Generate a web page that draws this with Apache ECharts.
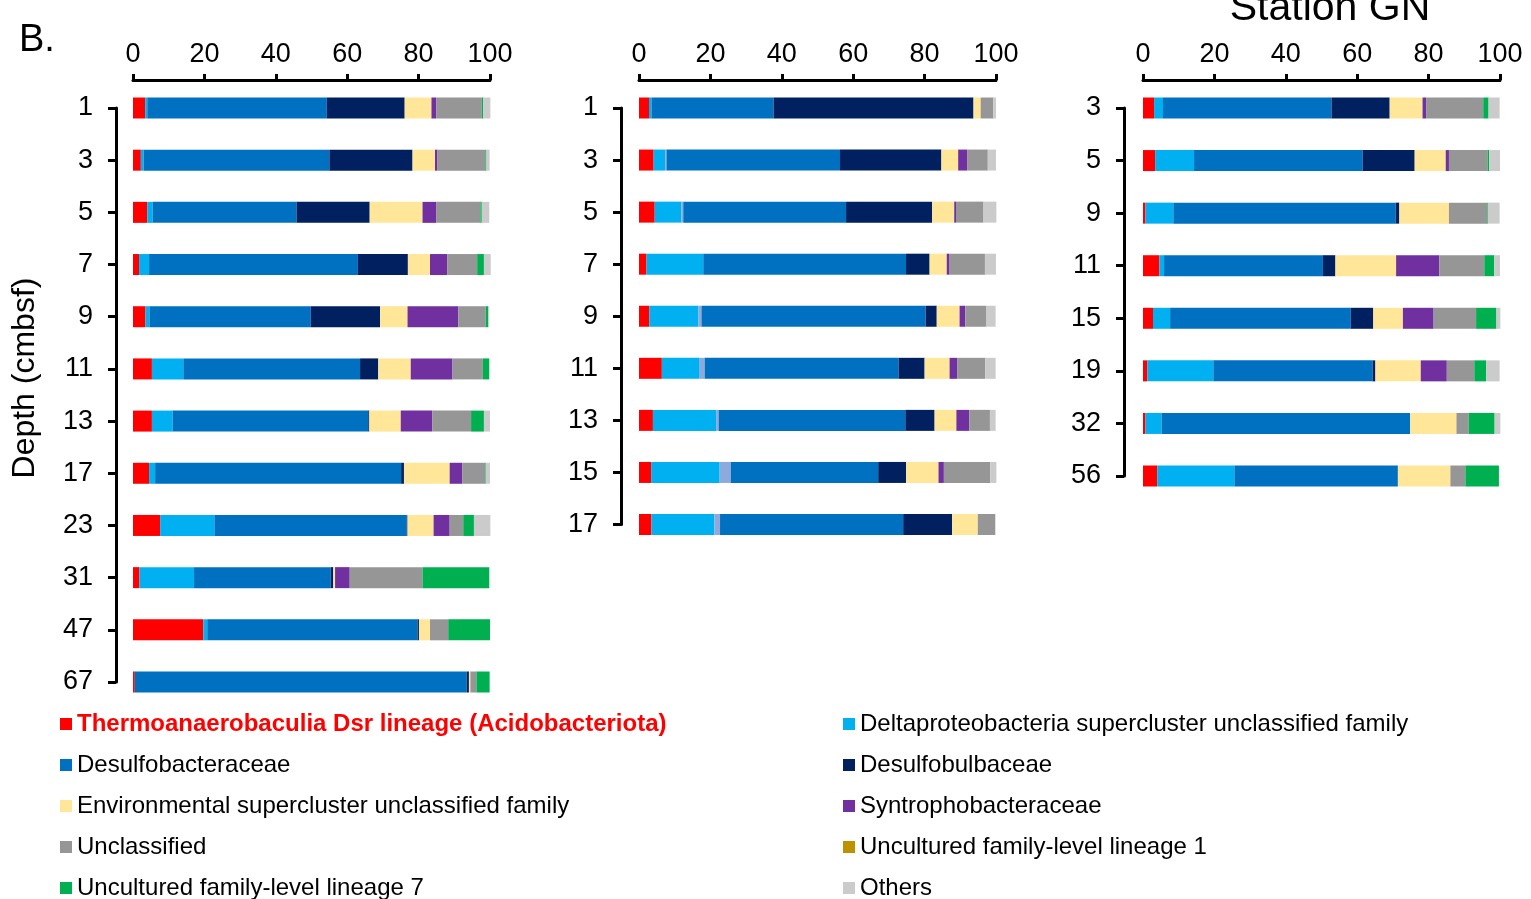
<!DOCTYPE html>
<html>
<head>
<meta charset="utf-8">
<title>Station GN – sulfate-reducer community by depth</title>
<script src="https://cdn.jsdelivr.net/npm/echarts@6/dist/echarts.min.js"></script>
<style>
  html, body { margin: 0; padding: 0; background: #ffffff; }
  #chart { width: 1531px; height: 899px; }
</style>
</head>
<body>
<div id="chart"></div>
<script>
// Depth categories (cmbsf) for the three cores
const depthsA = ['1', '3', '5', '7', '9', '11', '13', '17', '23', '31', '47', '67'];
const depthsB = ['1', '3', '5', '7', '9', '11', '13', '15', '17'];
const depthsC = ['3', '5', '9', '11', '15', '19', '32', '56'];

// Relative abundance (%) per family, one list per core: [core A, core B, core C]
const thermoanaerobaculia = [
  [3.4, 2.2, 4.0, 1.7, 3.5, 5.3, 5.3, 4.5, 7.6, 1.8, 19.7, 0.5],
  [2.8, 4.1, 4.4, 2.1, 2.9, 6.4, 3.9, 3.4, 3.5],
  [3.1, 3.4, 0.7, 4.6, 2.8, 1.2, 0.7, 4.0]
];
const deltaSupercluster = [
  [0.6, 0.8, 1.5, 2.8, 1.1, 8.8, 5.8, 1.7, 15.2, 15.3, 1.1, 0],
  [0.7, 3.2, 7.5, 15.9, 13.7, 10.6, 17.7, 19.2, 17.6],
  [2.5, 10.9, 7.8, 1.3, 4.8, 18.5, 4.5, 21.6]
];
const minorLineage = [
  [0, 0, 0, 0, 0, 0, 0, 0, 0, 0, 0, 0],
  [0, 0.4, 0.5, 0, 0.9, 1.4, 0.7, 3.1, 1.6],
  [0, 0, 0, 0, 0, 0, 0, 0]
];
const desulfobacteraceae = [
  [50.3, 52.0, 40.3, 58.5, 45.2, 49.5, 54.8, 68.9, 53.9, 38.3, 58.9, 93.0],
  [34.2, 48.6, 45.6, 56.8, 62.8, 54.3, 52.3, 41.3, 51.3],
  [47.2, 47.2, 62.3, 44.5, 50.6, 44.6, 69.6, 45.8]
];
const desulfobulbaceae = [
  [21.8, 23.3, 20.5, 14.0, 19.4, 5.1, 0.3, 0.8, 0.2, 0.7, 0.4, 0.6],
  [56.0, 28.4, 24.1, 6.6, 3.1, 7.3, 8.2, 7.8, 13.7],
  [16.3, 14.6, 1.0, 3.5, 6.3, 0.8, 0, 0]
];
const envSupercluster = [
  [7.5, 6.3, 14.8, 6.2, 7.7, 9.1, 8.8, 12.8, 7.3, 0.5, 3.1, 0.4],
  [2.0, 4.7, 6.2, 4.8, 6.4, 7.0, 6.1, 9.1, 7.2],
  [9.2, 8.7, 13.9, 17.0, 8.3, 12.7, 13.0, 14.7]
];
const syntrophobacteraceae = [
  [1.4, 0.7, 3.8, 4.8, 14.2, 11.7, 8.8, 3.5, 4.5, 4.1, 0, 0],
  [0, 2.5, 0.5, 0.8, 1.6, 2.1, 3.6, 1.5, 0],
  [1.0, 0.9, 0, 12.1, 8.6, 7.3, 0, 0]
];
const unclassified = [
  [12.7, 13.4, 12.4, 8.4, 7.7, 8.5, 10.9, 6.4, 3.8, 20.4, 5.1, 1.7],
  [3.5, 5.8, 7.7, 9.9, 5.8, 7.9, 5.8, 13.0, 4.9],
  [16.0, 10.8, 10.7, 12.6, 11.9, 7.7, 3.4, 4.2]
];
const uncultured1 = [
  [0, 0, 0, 0, 0, 0, 0, 0, 0, 0, 0, 0],
  [0, 0, 0, 0, 0, 0, 0, 0, 0],
  [0, 0, 0, 0, 0, 0, 0, 0]
];
const uncultured7 = [
  [0.4, 0.3, 0.4, 1.9, 0.7, 1.8, 3.6, 0.2, 3.0, 18.7, 11.7, 3.7],
  [0, 0, 0, 0, 0, 0, 0, 0, 0],
  [1.5, 0.5, 0.2, 2.8, 5.7, 3.3, 7.3, 9.4]
];
const others = [
  [2.0, 0.9, 2.1, 1.9, 0.3, 0, 1.7, 1.2, 4.6, 0, 0, 0],
  [0.8, 2.3, 3.6, 3.1, 2.7, 2.9, 1.6, 1.7, 0],
  [3.1, 3.0, 3.3, 1.6, 1.1, 3.8, 1.6, 0]
];

const xTicks = [0, 20, 40, 60, 80, 100];

// Stacking order, left to right
const taxa = [
  { name: 'Thermoanaerobaculia Dsr lineage (Acidobacteriota)', color: '#FF0000', values: thermoanaerobaculia },
  { name: 'Deltaproteobacteria supercluster unclassified family', color: '#00B0F0', values: deltaSupercluster },
  { name: 'Minor lineage', color: '#8EA9DB', values: minorLineage },
  { name: 'Desulfobacteraceae', color: '#0070C0', values: desulfobacteraceae },
  { name: 'Desulfobulbaceae', color: '#002060', values: desulfobulbaceae },
  { name: 'Environmental supercluster unclassified family', color: '#FFE699', values: envSupercluster },
  { name: 'Syntrophobacteraceae', color: '#7030A0', values: syntrophobacteraceae },
  { name: 'Unclassified', color: '#969696', values: unclassified },
  { name: 'Uncultured family-level lineage 1', color: '#BF9000', values: uncultured1 },
  { name: 'Uncultured family-level lineage 7', color: '#00B050', values: uncultured7 },
  { name: 'Others', color: '#CBCBCB', values: others }
];

const FONT = "'Liberation Sans', Arial, sans-serif";

const panels = [
  { depths: depthsA, left: 133, top: 108, height: 574, yOffset: 17 },
  { depths: depthsB, left: 639, top: 108, height: 416.5, yOffset: 18 },
  { depths: depthsC, left: 1143, top: 108, height: 368, yOffset: 19 }
];

const grids = panels.map(p => ({ left: p.left, top: p.top, width: 357, height: p.height, containLabel: false }));

const xAxes = panels.map((p, i) => ({
  type: 'value', gridIndex: i, position: 'top', offset: 28,
  min: xTicks[0], max: xTicks[xTicks.length - 1], interval: xTicks[1] - xTicks[0],
  axisLine: { show: true, onZero: false, lineStyle: { color: '#000', width: 3 } },
  axisTick: { show: true, length: 6, lineStyle: { color: '#000', width: 3 } },
  axisLabel: { color: '#000', fontSize: 27, fontFamily: FONT, margin: 12 },
  splitLine: { show: false }
}));

const yAxes = panels.map((p, i) => ({
  type: 'category', gridIndex: i, data: p.depths, inverse: true, boundaryGap: false,
  position: 'left', offset: p.yOffset,
  axisLine: { show: true, onZero: false, lineStyle: { color: '#000', width: 3 } },
  axisTick: { show: true, length: 8, alignWithLabel: true, lineStyle: { color: '#000', width: 3 } },
  axisLabel: { color: '#000', fontSize: 27, fontFamily: FONT, margin: 23 },
  splitLine: { show: false }
}));

const series = [];
panels.forEach((p, i) => {
  taxa.forEach(t => {
    series.push({
      type: 'bar', name: t.name, xAxisIndex: i, yAxisIndex: i,
      stack: 'core' + i, barWidth: 21, clip: false,
      itemStyle: { color: t.color },
      emphasis: { disabled: true },
      data: t.values[i]
    });
  });
});

const legendText = {
  color: '#000', fontSize: 24, fontFamily: FONT, lineHeight: 24,
  rich: { hl: { color: '#FF0000', fontWeight: 'bold', fontSize: 24, fontFamily: FONT, lineHeight: 24 } }
};
const legendFormatter = name => name === taxa[0].name ? '{hl|' + name + '}' : name;

const legendBase = {
  orient: 'vertical', top: 712, height: 320, itemGap: 17, itemWidth: 12, itemHeight: 12,
  icon: 'rect', selectedMode: false, padding: 0,
  textStyle: legendText, formatter: legendFormatter
};

const option = {
  animation: false,
  backgroundColor: '#ffffff',
  textStyle: { fontFamily: FONT },
  title: [
    { text: 'B.', left: 14, top: 17, textStyle: { fontSize: 38, fontWeight: 'normal', color: '#000', fontFamily: FONT } },
    { text: 'Station GN', left: 1325, top: -17, textAlign: 'center',
      textStyle: { fontSize: 41, fontWeight: 'normal', color: '#000', fontFamily: FONT } }
  ],
  legend: [
    Object.assign({}, legendBase, { left: 60, data: [taxa[0].name, taxa[3].name, taxa[5].name, taxa[7].name, taxa[9].name] }),
    Object.assign({}, legendBase, { left: 843, data: [taxa[1].name, taxa[4].name, taxa[6].name, taxa[8].name, taxa[10].name] })
  ],
  grid: grids,
  xAxis: xAxes,
  yAxis: yAxes,
  series: series,
  graphic: [{
    type: 'text', x: 25, y: 378, rotation: Math.PI / 2,
    style: { text: 'Depth (cmbsf)', fontSize: 32, fontFamily: FONT, fill: '#000', align: 'center', verticalAlign: 'middle' }
  }]
};

const chart = echarts.init(document.getElementById('chart'), null, { renderer: 'canvas' });
chart.setOption(option);
</script>
</body>
</html>
